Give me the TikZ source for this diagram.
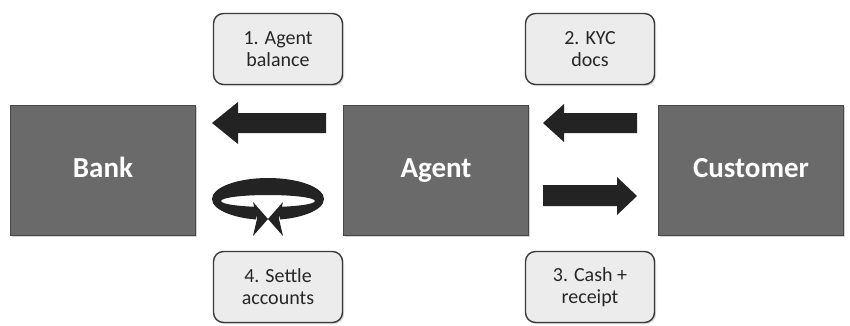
\documentclass[tikz,border=0pt]{standalone}
\usepackage{fontspec}
\setmainfont{Carlito}
\usetikzlibrary{arrows.meta,shadows,calc}
\definecolor{boxgray}{HTML}{6A6A6A}
\definecolor{boxedge}{HTML}{474747}
\definecolor{lblfill}{HTML}{ECECEC}
\definecolor{lbledge}{HTML}{3A3A3A}
\definecolor{arrowc}{HTML}{232323}
\tikzset{
  party/.style={draw=boxedge, line width=1pt, fill=boxgray, minimum width=185pt, minimum height=130pt,
    inner sep=0pt, text=white, font=\bfseries\fontsize{29}{32}\selectfont,
    text height=21pt, text depth=6pt,
    drop shadow={shadow xshift=1.5pt, shadow yshift=-1.5pt, opacity=0.35}},
  lbl/.style={draw=lbledge, line width=1.4pt, fill=lblfill, rounded corners=10pt, minimum width=129pt,
    minimum height=71pt, inner sep=0pt, align=center, font=\fontsize{20}{22}\selectfont, text=black!85,
    drop shadow={shadow xshift=1.5pt, shadow yshift=-1.5pt, opacity=0.3}},
  blockarrow/.style={fill=arrowc, draw=none},
}
\begin{document}
\begin{tikzpicture}[x=1pt,y=-1pt]
\useasboundingbox (0,0) rectangle (850,325);
% main boxes
\node[party] (bank) at (103,170) {Bank};
\node[party] (agent) at (436,170) {Agent};
\node[party] (cust) at (751,170) {Customer};
% labels
\node[lbl] (l1) at (278,49) {1. Agent\\balance};
\node[lbl] (l2) at (590,49) {2. KYC\\docs};
\node[lbl] (l4) at (278,287) {4. Settle\\accounts};
\node[lbl] (l3) at (590,287) {3. Cash +\\receipt};
% arrow 1: agent -> bank (pointing left)
\fill[blockarrow] (326,113) -- (238,113) -- (238,102) -- (212,123) -- (238,144) -- (238,133) -- (326,133) -- cycle;
% arrow 2: customer -> agent (pointing left)
\fill[blockarrow] (637,113) -- (564,113) -- (564,104) -- (543,123) -- (564,142) -- (564,133) -- (637,133) -- cycle;
% arrow 3: agent -> customer (pointing right)
\fill[blockarrow] (543,185) -- (617,185) -- (617,177) -- (637,196) -- (617,215) -- (617,206) -- (543,206) -- cycle;
% circular settle arrow (ring band with gap at bottom centre)
\begin{scope}
  \clip (200,170) rectangle (256,240) (280,170) rectangle (340,240) (255,170) rectangle (281,200);
  \fill[arrowc, even odd rule] (268,199) ellipse[x radius=56pt, y radius=21pt]
        (268,201) ellipse[x radius=47pt, y radius=6pt];
\end{scope}
\fill[arrowc] (253,202) -- (268,219) -- (253,236) -- (257,219) -- cycle;
\fill[arrowc] (283,202) -- (268,219) -- (283,236) -- (279,219) -- cycle;
\end{tikzpicture}
\end{document}
